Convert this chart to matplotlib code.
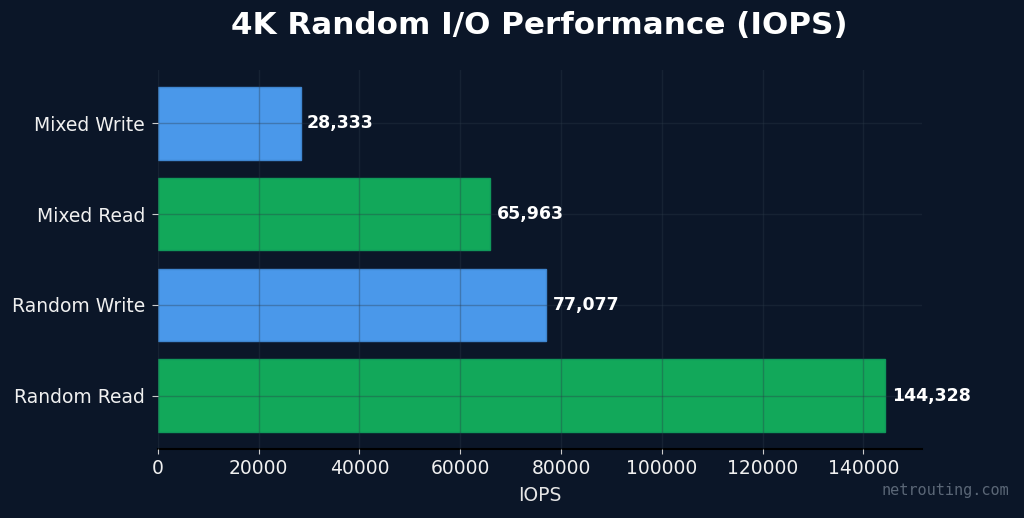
import matplotlib.pyplot as plt
import numpy as np

# Benchmark results
tests = ['Random Read', 'Random Write', 'Mixed Read', 'Mixed Write']
iops = [144328, 77077, 65963, 28333]
colors = ['#12a85a', '#4a98ea', '#12a85a', '#4a98ea']
edges = ['#10985a', '#3f86d0', '#10985a', '#3f86d0']

bg = '#0b1628'

fig = plt.figure(figsize=(10.24, 5.18), dpi=100, facecolor=bg)
ax = fig.add_axes([0.154, 0.133, 0.746, 0.732])
ax.set_facecolor(bg)

y = np.arange(len(tests))
bars = ax.barh(y, iops, height=0.8, color=colors, edgecolor=edges, linewidth=1)

ax.set_yticks(y)
ax.set_yticklabels(tests)
ax.set_xlim(0, max(iops) * 1.05)

# value labels
for b, v in zip(bars, iops):
    ax.text(b.get_width() + max(iops) * 0.009, b.get_y() + b.get_height() / 2,
            f'{v:,}', va='center', ha='left', color='white',
            fontsize=12.5, fontweight='bold')

ax.set_title('4K Random I/O Performance (IOPS)', color='white',
             fontsize=22.3, fontweight='bold', pad=26)
ax.set_xlabel('IOPS', color='#e6e6e6', fontsize=13.5, labelpad=6)

ax.tick_params(axis='both', colors='#cccccc', labelcolor='#f0f0f0', labelsize=13.5)
ax.tick_params(axis='y', length=4.5, pad=4.5)
ax.grid(True, color='#2b3a48', alpha=0.35, linewidth=1)
ax.set_axisbelow(False)

for s in ['top', 'right', 'left']:
    ax.spines[s].set_visible(False)
ax.spines['bottom'].set_color('black')
ax.spines['bottom'].set_linewidth(1.5)

fig.text(0.986, 0.054, 'netrouting.com', ha='right', va='center',
         color='#5a6676', fontsize=11, family='DejaVu Sans Mono')

plt.savefig('out.png', dpi=100, facecolor=bg)
